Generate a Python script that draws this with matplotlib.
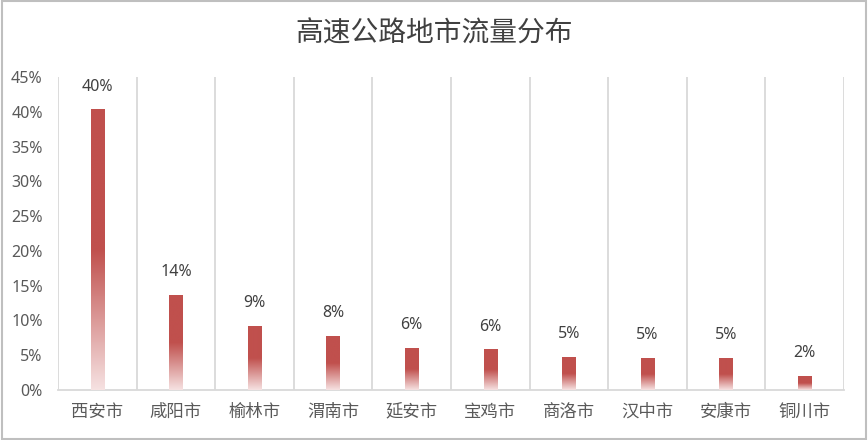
import numpy as np
import matplotlib
matplotlib.use("Agg")
import matplotlib.pyplot as plt
from matplotlib.colors import LinearSegmentedColormap
from matplotlib.patches import Rectangle

plt.rcParams['font.family'] = ['Noto Sans CJK SC', 'DejaVu Sans']

categories = ['西安市', '咸阳市', '榆林市', '渭南市', '延安市', '宝鸡市', '商洛市', '汉中市', '安康市', '铜川市']
values = [40.3, 13.6, 9.2, 7.7, 6.0, 5.8, 4.7, 4.55, 4.55, 2.0]
yticks = [0, 5, 10, 15, 20, 25, 30, 35, 40, 45]
title = '高速公路地市流量分布'

num_font = ['Noto Sans', 'DejaVu Sans']

fig = plt.figure(figsize=(8.68, 4.4), dpi=100)
ax = fig.add_axes([58/868, 50/440, 786/868, 313/440])

x = np.arange(len(categories))
bars = ax.bar(x, values, width=0.17, color='none', edgecolor='none', zorder=3)

cmap = LinearSegmentedColormap.from_list('g', [(0.0, '#F6E2E2'), (0.5, '#C0504D'), (1.0, '#C0504D')])
grad = np.linspace(0, 1, 256).reshape(-1, 1)
for b in bars:
    x0, w, h = b.get_x(), b.get_width(), b.get_height()
    ax.imshow(grad, cmap=cmap, origin='lower', aspect='auto',
              extent=(x0, x0 + w, 0, h), zorder=3, interpolation='bilinear')

for xi, v in zip(x, values):
    ax.text(xi, v + 3.3, f'{v:.0f}%', ha='center', va='center', fontsize=11.5,
            color='#404040', family=num_font)

ax.set_xlim(-0.5, len(categories) - 0.5)
ax.set_ylim(0, 45)
ax.set_yticks(yticks)
ax.set_yticklabels([f'{t}%' for t in yticks], fontsize=11.5, color='#595959', family=num_font)
ax.set_xticks(x)
ax.set_xticklabels(categories, fontsize=12.5, color='#595959')
ax.tick_params(axis='both', length=0)
ax.tick_params(axis='y', pad=11)
ax.tick_params(axis='x', pad=9)

for b in np.arange(-0.5, len(categories), 1.0):
    ax.axvline(b, color='#D9D9D9', linewidth=1.3, zorder=1)

for s in ['top', 'right', 'left']:
    ax.spines[s].set_visible(False)
ax.spines['bottom'].set_color('#D9D9D9')
ax.spines['bottom'].set_linewidth(1.3)

fig.text(0.5, 1 - 34/440, title, ha='center', va='center', fontsize=20, color='#404040')

fig.patches.append(Rectangle((0.002, 0.003), 0.996, 0.994, transform=fig.transFigure,
                             fill=False, edgecolor='#BFBFBF', linewidth=1.5))

fig.savefig('out.png', dpi=100)
